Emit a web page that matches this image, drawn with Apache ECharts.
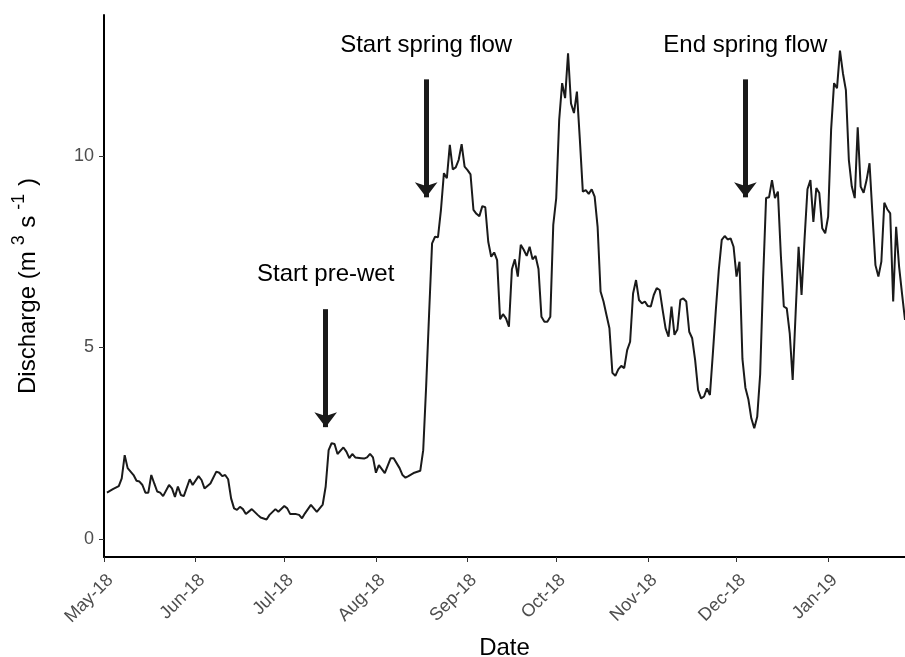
<!DOCTYPE html>
<html>
<head>
<meta charset="utf-8">
<script src="https://cdn.jsdelivr.net/npm/echarts@6/dist/echarts.min.js"></script>
<style>
  html, body { margin: 0; padding: 0; background: #ffffff; }
  #chart { width: 905px; height: 657px; }
</style>
</head>
<body>
<div id="chart"></div>
<script>
// Daily discharge record; x positions are days counted from 1 May 2018.
const startDate = [2018, 4, 1]; // month is zero-based
const axisLengthDays = 271;

const dayOffset = [
  1, 3, 5, 6, 7, 8, 10, 11, 12, 13, 14, 15, 16, 17, 18, 19, 20, 22, 23, 24,
  25, 26, 27, 29, 30, 32, 33, 34, 36, 38, 39, 40, 41, 42, 43, 44, 45, 46, 47, 48,
  50, 52, 53, 55, 56, 58, 59, 61, 62, 63, 65, 66, 67, 68, 70, 71, 72, 74, 75, 76,
  77, 78, 79, 81, 82, 83, 84, 85, 87, 88, 89, 90, 91, 92, 93, 95, 97, 98, 100, 101,
  102, 103, 105, 107, 108, 109, 110, 111, 112, 113, 114, 115, 116, 117, 118, 119, 120, 121, 122, 123,
  124, 125, 126, 127, 128, 129, 130, 131, 132, 133, 134, 135, 136, 137, 138, 139, 140, 141, 142, 143,
  144, 145, 146, 147, 148, 149, 150, 151, 152, 153, 154, 155, 156, 157, 158, 159, 160, 161, 162, 163,
  164, 165, 166, 167, 168, 169, 170, 171, 172, 173, 174, 175, 176, 177, 178, 179, 180, 181, 182, 183,
  184, 185, 186, 187, 188, 189, 190, 191, 192, 193, 194, 195, 196, 197, 198, 199, 200, 201, 202, 203,
  204, 205, 206, 207, 208, 209, 210, 211, 212, 213, 214, 215, 216, 217, 218, 219, 220, 221, 222, 223,
  224, 225, 226, 227, 228, 229, 230, 231, 232, 233, 234, 235, 236, 237, 238, 239, 240, 241, 242, 243,
  244, 245, 246, 247, 248, 249, 250, 251, 252, 253, 254, 255, 256, 257, 258, 259, 260, 261, 262, 263,
  264, 265, 266, 267, 268, 269, 270, 271
];

const discharge = [
  1.21, 1.30, 1.38, 1.58, 2.19, 1.85, 1.67, 1.52, 1.50, 1.41, 1.21, 1.21, 1.67, 1.45, 1.24, 1.21, 1.12, 1.41, 1.32, 1.10,
  1.37, 1.15, 1.12, 1.56, 1.41, 1.64, 1.54, 1.32, 1.45, 1.76, 1.73, 1.64, 1.67, 1.56, 1.06, 0.80, 0.76, 0.84, 0.78, 0.65,
  0.78, 0.63, 0.56, 0.51, 0.63, 0.78, 0.71, 0.86, 0.80, 0.65, 0.65, 0.63, 0.54, 0.67, 0.89, 0.80, 0.71, 0.90, 1.37, 2.32,
  2.50, 2.48, 2.22, 2.39, 2.28, 2.11, 2.22, 2.13, 2.11, 2.10, 2.13, 2.22, 2.13, 1.73, 1.93, 1.72, 2.11, 2.11, 1.85, 1.67,
  1.60, 1.64, 1.73, 1.78, 2.32, 4.00, 5.90, 7.72, 7.89, 7.88, 8.59, 9.55, 9.42, 10.29, 9.65, 9.70, 9.90, 10.31, 9.72, 9.63,
  9.52, 8.59, 8.49, 8.43, 8.69, 8.66, 7.76, 7.37, 7.48, 7.28, 5.74, 5.87, 5.76, 5.54, 7.04, 7.30, 6.85, 7.68, 7.55, 7.39,
  7.63, 7.30, 7.39, 7.05, 5.80, 5.67, 5.67, 5.80, 8.20, 8.90, 10.94, 11.90, 11.51, 12.68, 11.37, 11.12, 11.68, 10.42, 9.07, 9.11,
  9.01, 9.13, 8.94, 8.15, 6.46, 6.20, 5.85, 5.50, 4.34, 4.26, 4.43, 4.52, 4.46, 4.93, 5.15, 6.41, 6.76, 6.24, 6.15, 6.20,
  6.08, 6.07, 6.37, 6.55, 6.50, 5.98, 5.50, 5.28, 6.07, 5.33, 5.47, 6.24, 6.28, 6.20, 5.41, 5.24, 4.67, 3.89, 3.67, 3.72,
  3.93, 3.76, 4.85, 5.98, 7.02, 7.81, 7.91, 7.82, 7.85, 7.63, 6.85, 7.24, 4.70, 3.95, 3.65, 3.15, 2.89, 3.19, 4.30, 6.80,
  8.90, 8.92, 9.37, 8.90, 9.07, 7.40, 6.07, 6.02, 5.37, 4.15, 5.90, 7.63, 6.37, 7.81, 9.13, 9.37, 8.28, 9.16, 9.03, 8.11,
  7.98, 8.42, 10.68, 11.90, 11.77, 12.75, 12.16, 11.72, 9.90, 9.20, 8.90, 10.75, 9.20, 9.04, 9.37, 9.81, 8.46, 7.15, 6.85, 7.24,
  8.78, 8.61, 8.50, 6.20, 8.15, 7.11, 6.40, 5.72
];

// Month ticks on the date axis (first day of each month)
const monthTicks = [
  [2018, 4], [2018, 5], [2018, 6], [2018, 7], [2018, 8],
  [2018, 9], [2018, 10], [2018, 11], [2019, 0]
];
const monthNames = ['Jan', 'Feb', 'Mar', 'Apr', 'May', 'Jun', 'Jul', 'Aug', 'Sep', 'Oct', 'Nov', 'Dec'];

// Discharge axis
const yTicks = [0, 5, 10];
const yMin = -0.47;
const yMax = 13.68;

// Annotated events: arrow from `from` down to `to`, caption centred at `textAt`
const eventLabels = ['Start pre-wet', 'Start spring flow', 'End spring flow'];
const eventDay = [75, 109, 217];
const eventArrowFrom = [6, 12, 12];
const eventArrowTo = [2.92, 8.92, 8.92];
const eventTextAt = [6.9, 12.88, 12.88];

const DAY_MS = 86400000;
const origin = Date.UTC(startDate[0], startDate[1], startDate[2]);
const tickDays = monthTicks.map(m => Math.round((Date.UTC(m[0], m[1], 1) - origin) / DAY_MS));
const dayLabel = d => {
  const t = new Date(origin + Math.round(d) * DAY_MS);
  return monthNames[t.getUTCMonth()] + '-' + String(t.getUTCFullYear()).slice(2);
};
const lineData = dayOffset.map((d, i) => [d, discharge[i]]);

const FONT = '"Liberation Sans", Arial, Helvetica, sans-serif';
const INK = '#1a1a1a';

const chart = echarts.init(document.getElementById('chart'), null, { renderer: 'canvas' });

chart.setOption({
  animation: false,
  backgroundColor: '#ffffff',
  grid: { left: 104, right: 0, top: 15, bottom: 100, containLabel: false, outerBoundsMode: 'none' },
  xAxis: {
    type: 'value',
    min: 0,
    max: axisLengthDays,
    name: 'Date',
    nameLocation: 'middle',
    nameGap: 79,
    nameTextStyle: { fontFamily: FONT, fontSize: 24, color: '#000000' },
    axisLine: { show: true, onZero: false, lineStyle: { color: '#000000', width: 2 } },
    axisTick: { show: true, customValues: tickDays, length: 5, lineStyle: { color: '#333333', width: 1 } },
    axisLabel: {
      customValues: tickDays,
      rotate: 45,
      margin: 14,
      verticalAlign: 'top',
      fontFamily: FONT,
      fontSize: 18,
      color: '#4d4d4d',
      formatter: v => dayLabel(v)
    },
    splitLine: { show: false }
  },
  yAxis: {
    type: 'value',
    min: yMin,
    max: yMax,
    name: '{a|Discharge (m}{s| 3}{a| s}{s| -1}{a| )}',
    nameLocation: 'middle',
    nameGap: 58,
    nameRotate: 90,
    nameTextStyle: {
      fontFamily: FONT,
      color: '#000000',
      rich: {
        a: { fontFamily: FONT, fontSize: 24, color: '#000000' },
        s: { fontFamily: FONT, fontSize: 18, color: '#000000', padding: [0, 1, 18, 1] }
      }
    },
    axisLine: { show: true, onZero: false, lineStyle: { color: '#000000', width: 2 } },
    axisTick: { show: true, customValues: yTicks, length: 5, lineStyle: { color: '#333333', width: 1 } },
    axisLabel: {
      customValues: yTicks,
      margin: 10,
      fontFamily: FONT,
      fontSize: 18,
      color: '#4d4d4d'
    },
    splitLine: { show: false }
  },
  series: [{
    type: 'line',
    data: lineData,
    showSymbol: false,
    symbol: 'none',
    lineStyle: { color: INK, width: 2 },
    clip: true,
    markLine: {
      silent: true,
      symbol: ['none', 'arrow'],
      symbolSize: [17, 15],
      lineStyle: { color: INK, width: 5, type: 'solid' },
      label: { show: false },
      data: eventDay.map((d, i) => [
        { coord: [d, eventArrowFrom[i]] },
        { coord: [d, eventArrowTo[i]] }
      ])
    },
    markPoint: {
      silent: true,
      symbol: 'circle',
      symbolSize: 0,
      label: {
        show: true,
        position: 'inside',
        fontFamily: FONT,
        fontSize: 24,
        color: '#000000'
      },
      data: eventDay.map((d, i) => ({
        coord: [d, eventTextAt[i]],
        label: { formatter: eventLabels[i] }
      }))
    }
  }]
});
</script>
</body>
</html>
